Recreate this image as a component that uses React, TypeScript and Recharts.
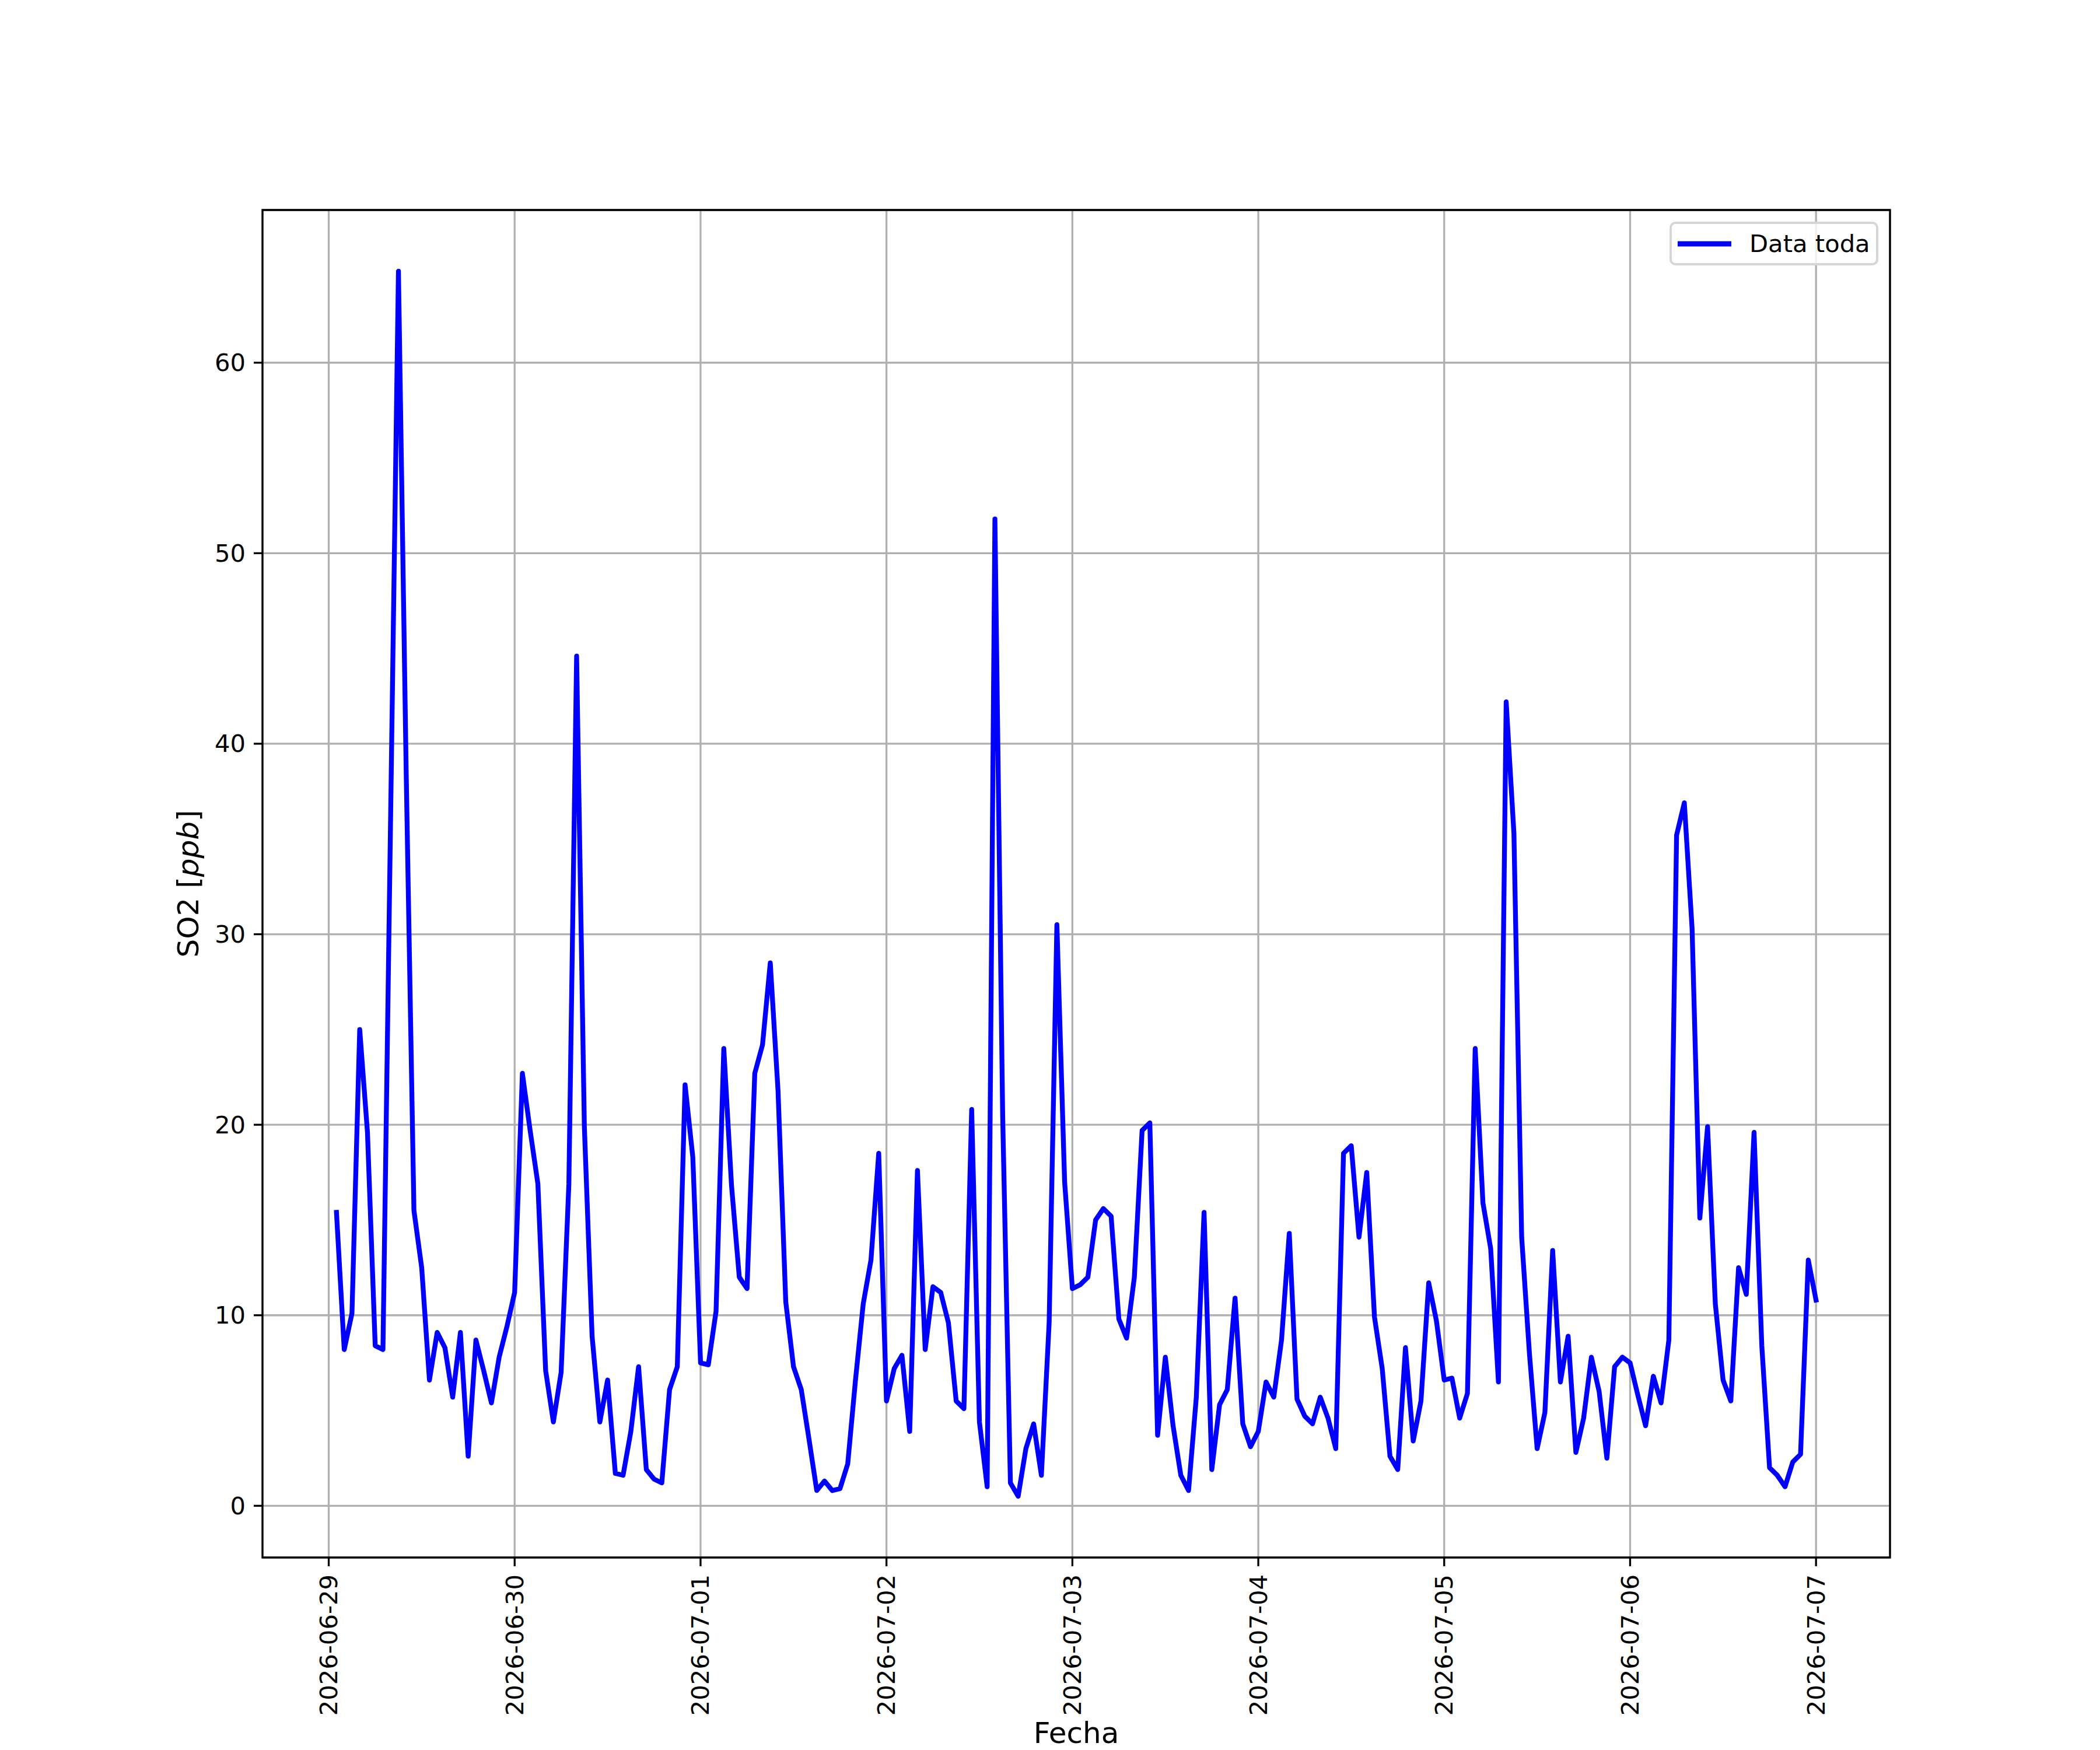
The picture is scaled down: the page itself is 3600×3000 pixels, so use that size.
import { LineChart, Line, XAxis, YAxis, CartesianGrid, Legend, ReferenceArea } from 'recharts'

// hourly SO2 readings, 2026-06-29 01:00 .. 2026-07-07 00:00
const so2Values = [
  15.4, 8.2, 10.1, 25.0, 19.6, 8.4, 8.2, 36.5, 64.8, 38.5, 15.5, 12.5,
  6.6, 9.1, 8.3, 5.7, 9.1, 2.6, 8.7, 7.1, 5.4, 7.8, 9.4, 11.2,
  22.7, 19.7, 16.9, 7.1, 4.4, 7.0, 16.9, 44.6, 19.9, 8.9, 4.4, 6.6,
  1.7, 1.6, 3.9, 7.3, 1.9, 1.4, 1.2, 6.1, 7.3, 22.1, 18.3, 7.5,
  7.4, 10.2, 24.0, 16.8, 12.0, 11.4, 22.7, 24.2, 28.5, 21.8, 10.7, 7.3,
  6.1, 3.5, 0.8, 1.3, 0.8, 0.9, 2.2, 6.6, 10.6, 12.9, 18.5, 5.5,
  7.2, 7.9, 3.9, 17.6, 8.2, 11.5, 11.2, 9.6, 5.5, 5.1, 20.8, 4.4,
  1.0, 51.8, 20.5, 1.2, 0.5, 3.0, 4.3, 1.6, 9.6, 30.5, 17.0, 11.4,
  11.6, 12.0, 15.0, 15.6, 15.2, 9.8, 8.8, 12.0, 19.7, 20.1, 3.7, 7.8,
  4.2, 1.6, 0.8, 5.7, 15.4, 1.9, 5.3, 6.1, 10.9, 4.3, 3.1, 3.9,
  6.5, 5.7, 8.7, 14.3, 5.6, 4.7, 4.3, 5.7, 4.6, 3.0, 18.5, 18.9,
  14.1, 17.5, 9.9, 7.2, 2.6, 1.9, 8.3, 3.4, 5.5, 11.7, 9.7, 6.6,
  6.7, 4.6, 5.9, 24.0, 15.9, 13.5, 6.5, 42.2, 35.3, 14.1, 8.0, 3.0,
  4.9, 13.4, 6.5, 8.9, 2.8, 4.6, 7.8, 6.0, 2.5, 7.3, 7.8, 7.5,
  5.8, 4.2, 6.8, 5.4, 8.7, 35.2, 36.9, 30.3, 15.1, 19.9, 10.6, 6.6,
  5.5, 12.5, 11.1, 19.6, 8.4, 2.0, 1.6, 1.0, 2.3, 2.7, 12.9, 10.8,
]

const xTickLabels = [
  '2026-06-29', '2026-06-30', '2026-07-01', '2026-07-02', '2026-07-03',
  '2026-07-04', '2026-07-05', '2026-07-06', '2026-07-07',
]
const xTicks = xTickLabels.map((_, i) => i * 24) // hours since 2026-06-29 00:00
const yTicks = [0, 10, 20, 30, 40, 50, 60]

const data = so2Values.map((v, i) => ({ hour: i + 1, so2: v }))

// matplotlib style 5% margins around the data
const xMin = data[0].hour
const xMax = data[data.length - 1].hour
const xPad = (xMax - xMin) * 0.05
const xDomain: [number, number] = [xMin - xPad, xMax + xPad]
const yLo = Math.min(...so2Values)
const yHi = Math.max(...so2Values)
const yPad = (yHi - yLo) * 0.05
const yDomain: [number, number] = [yLo - yPad, yHi + yPad]

const FONT = '"DejaVu Sans", sans-serif'
const TICK_FS = 41.7
const LABEL_FS = 50
const LW = 3.3

const XTick = (props: any) => {
  const { x, y, payload } = props
  const label = xTickLabels[Math.round(payload.value / 24)]
  return (
    <text
      transform={`translate(${x},${y}) rotate(-90)`}
      textAnchor="end"
      dominantBaseline="central"
      fontFamily={FONT}
      fontSize={TICK_FS}
      fill="#000"
    >
      {label}
    </text>
  )
}

const YTick = (props: any) => {
  const { x, y, payload } = props
  return (
    <text x={x} y={y} textAnchor="end" dominantBaseline="central" fontFamily={FONT} fontSize={TICK_FS} fill="#000">
      {payload.value}
    </text>
  )
}

const LegendBox = () => (
  <div
    style={{
      boxSizing: 'border-box',
      width: 358,
      height: 75,
      border: '4px solid #d6d6d6',
      borderRadius: 10,
      background: 'rgba(255,255,255,0.8)',
      display: 'flex',
      alignItems: 'center',
      paddingLeft: 10,
    }}
  >
    <svg width={92} height={20} style={{ display: 'block' }}>
      <line x1={0} y1={10} x2={92} y2={10} stroke="#0000ff" strokeWidth={9} />
    </svg>
    <span style={{ fontFamily: FONT, fontSize: TICK_FS, color: '#000', marginLeft: 31, lineHeight: 1 }}>Data toda</span>
  </div>
)

export default function App() {
  return (
    <div style={{ position: 'absolute', left: 0, top: 0, width: 3600, height: 3000, background: '#fff' }}>
      <LineChart width={3600} height={3000} data={data} margin={{ top: 360, right: 360, bottom: 0, left: 0 }}>
        <CartesianGrid stroke="#b0b0b0" strokeWidth={LW} />
        <XAxis
          dataKey="hour"
          type="number"
          domain={xDomain}
          ticks={xTicks}
          allowDataOverflow
          height={330}
          axisLine={false}
          tickLine={{ stroke: '#000', strokeWidth: LW }}
          tickSize={15}
          tickMargin={14}
          tick={<XTick />}
          interval={0}
          label={{
            content: (p: any) => {
              const vb = p.viewBox
              return (
                <text x={vb.x + vb.width / 2} y={vb.y + 318} textAnchor="middle" fontFamily={FONT} fontSize={LABEL_FS} fill="#000">
                  Fecha
                </text>
              )
            },
          }}
        />
        <YAxis
          type="number"
          domain={yDomain}
          ticks={yTicks}
          allowDataOverflow
          width={450}
          axisLine={false}
          tickLine={{ stroke: '#000', strokeWidth: LW }}
          tickSize={15}
          tickMargin={14}
          tick={<YTick />}
          interval={0}
          label={{
            content: (p: any) => {
              const vb = p.viewBox
              return (
                <text
                  transform={`translate(${vb.x + 340},${vb.y + vb.height / 2}) rotate(-90)`}
                  textAnchor="middle"
                  fontFamily={FONT}
                  fontSize={LABEL_FS}
                  fill="#000"
                >
                  SO2 [<tspan fontStyle="italic">ppb</tspan>]
                </text>
              )
            },
          }}
        />
        <Line
          type="linear"
          dataKey="so2"
          name="Data toda"
          stroke="#0000ff"
          strokeWidth={8.3}
          strokeLinejoin="round"
          strokeLinecap="square"
          dot={false}
          activeDot={false}
          isAnimationActive={false}
        />
        <ReferenceArea
          x1={xDomain[0]}
          x2={xDomain[1]}
          y1={yDomain[0]}
          y2={yDomain[1]}
          fill="none"
          fillOpacity={0}
          stroke="#000"
          strokeWidth={LW}
          ifOverflow="visible"
        />
        <Legend
          layout="vertical"
          align="center"
          verticalAlign="middle"
          wrapperStyle={{ position: 'absolute', left: 2862, top: 380, width: 358, height: 75 }}
          content={() => <LegendBox />}
        />
      </LineChart>
    </div>
  )
}
